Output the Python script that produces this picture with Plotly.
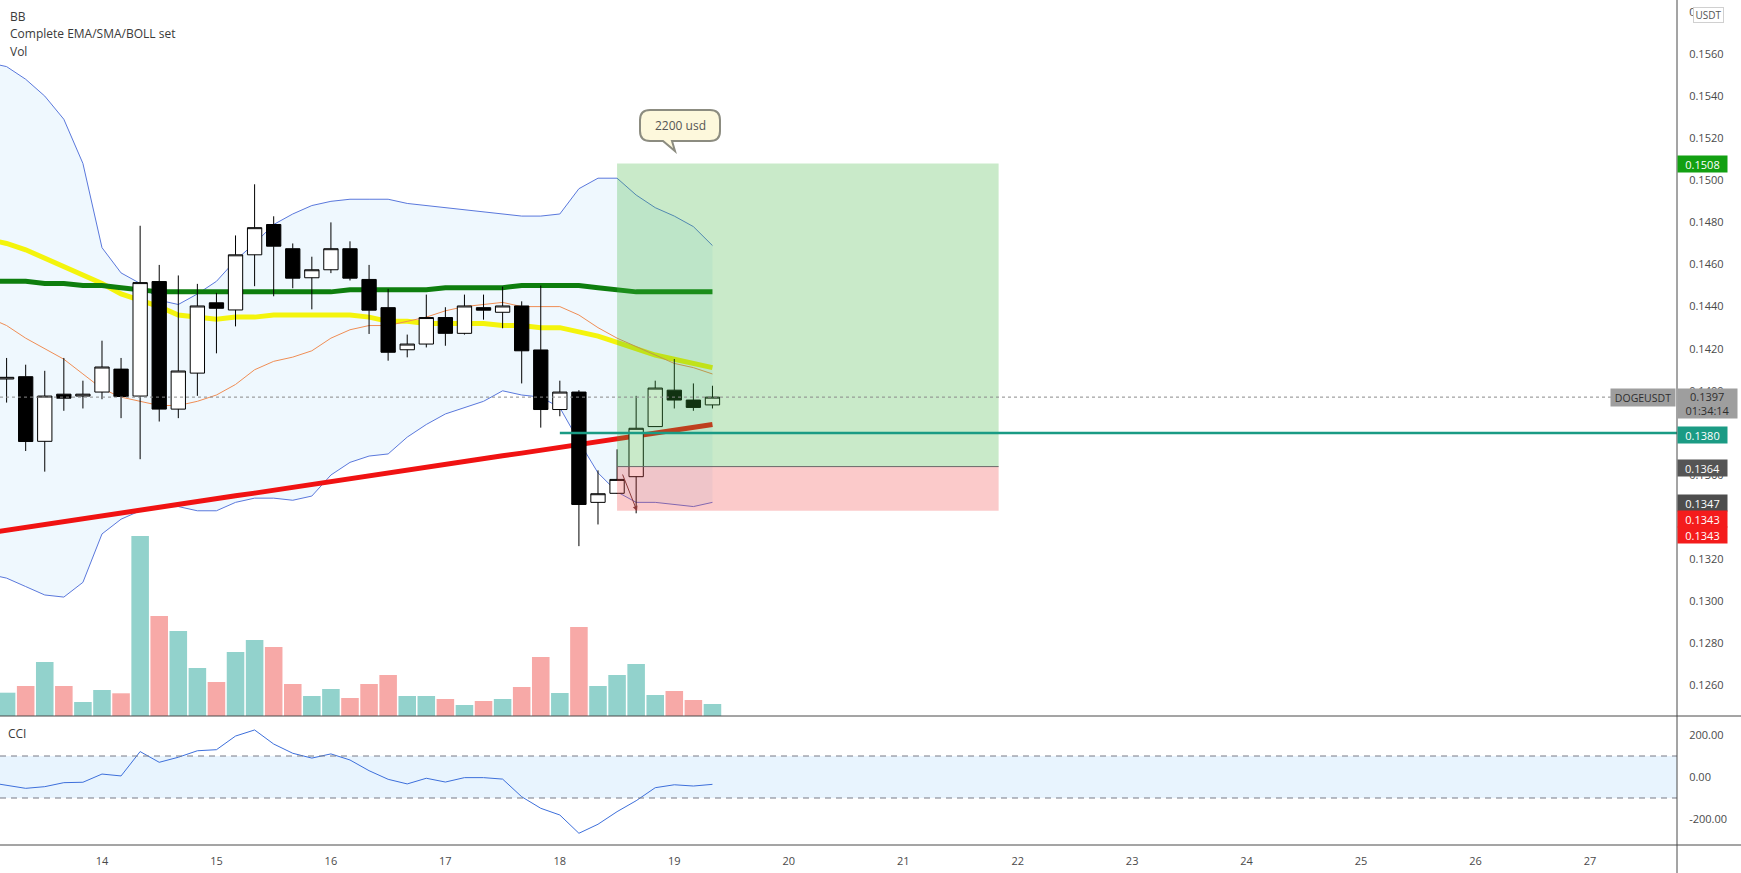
import plotly.graph_objects as go
import pandas as pd

# ---------------- data ----------------
candle_start = "2021-12-13 04:00"
n_candles = 38

opens = [0.14056, 0.14067, 0.13760, 0.13984, 0.13975, 0.13994, 0.14103, 0.13975, 0.14519, 0.13913,
         0.14084, 0.14418, 0.14384, 0.14646, 0.14790, 0.14675, 0.14537, 0.14575, 0.14675, 0.14529,
         0.14395, 0.14195, 0.14222, 0.14348, 0.14273, 0.14395, 0.14373, 0.14403, 0.14194, 0.13911,
         0.13994, 0.13470, 0.13513, 0.13592, 0.13830, 0.14003, 0.13956, 0.13933]
highs = [0.14156, 0.14124, 0.14095, 0.14156, 0.14048, 0.14238, 0.14156, 0.14784, 0.14598, 0.14548,
         0.14508, 0.14465, 0.14738, 0.14981, 0.14829, 0.14700, 0.14637, 0.14800, 0.14710, 0.14598,
         0.14484, 0.14267, 0.14457, 0.14397, 0.14457, 0.14457, 0.14495, 0.14425, 0.14500, 0.14048,
         0.14003, 0.13622, 0.13722, 0.13976, 0.14048, 0.14151, 0.14035, 0.14024]
lows = [0.13944, 0.13714, 0.13616, 0.13905, 0.13916, 0.13960, 0.13870, 0.13675, 0.13854, 0.13870,
        0.13976, 0.14178, 0.14306, 0.14497, 0.14449, 0.14487, 0.14387, 0.14559, 0.14524, 0.14270,
        0.14143, 0.14159, 0.14206, 0.14214, 0.14267, 0.14338, 0.14297, 0.14035, 0.13825, 0.13879,
        0.13262, 0.13365, 0.13510, 0.13418, 0.13830, 0.13916, 0.13905, 0.13916]
closes = [0.14064, 0.13759, 0.13975, 0.13965, 0.13984, 0.14113, 0.13973, 0.14514, 0.13913, 0.14094,
          0.14403, 0.14392, 0.14646, 0.14775, 0.14687, 0.14535, 0.14575, 0.14675, 0.14535, 0.14383,
          0.14183, 0.14222, 0.14348, 0.14273, 0.14403, 0.14383, 0.14403, 0.14190, 0.13911, 0.13994,
          0.13460, 0.13511, 0.13579, 0.13822, 0.14013, 0.13956, 0.13921, 0.13970]
volumes = [23.3, 30, 54, 30, 14, 26, 22.7, 180, 100, 85, 48, 34, 64, 76, 69, 32, 20, 27, 18, 32,
           41, 20, 20, 17, 11, 15, 17, 29, 59, 23, 89, 30, 41, 52, 21, 25, 16, 12]

# indicator series start one bar earlier (bar just left of the visible window)
ema_orange = [0.1435, 0.1431, 0.1425, 0.1420, 0.1415, 0.1408, 0.1401, 0.1397, 0.1395, 0.1393, 0.1393,
              0.1395, 0.1398, 0.1403, 0.1410, 0.1414, 0.1416, 0.1419, 0.1425, 0.1429, 0.1431,
              0.1431, 0.1433, 0.1435, 0.1438, 0.1440, 0.1441, 0.1442, 0.1440, 0.1440, 0.1440,
              0.1436, 0.1430, 0.1425, 0.1421, 0.1417, 0.1413, 0.1411, 0.1408]
ma_yellow = [0.1472, 0.1470, 0.1467, 0.1463, 0.1459, 0.1455, 0.1451, 0.1446, 0.1443, 0.1440, 0.1436,
             0.1435, 0.1434, 0.1435, 0.1435, 0.1436, 0.1436, 0.1436, 0.1436, 0.1436, 0.1435,
             0.1433, 0.1433, 0.1432, 0.1432, 0.1432, 0.1432, 0.1431, 0.1431, 0.1430, 0.1430,
             0.1428, 0.1426, 0.1423, 0.1420, 0.1417, 0.1415, 0.1413, 0.1411]
ma_green = [0.1452, 0.1452, 0.1452, 0.1451, 0.1451, 0.1450, 0.1450, 0.1449, 0.1448, 0.1447, 0.1447,
            0.1447, 0.1447, 0.1447, 0.1447, 0.1447, 0.1447, 0.1447, 0.1447, 0.1448, 0.1448,
            0.1448, 0.1448, 0.1448, 0.1449, 0.1449, 0.1449, 0.1449, 0.1450, 0.1450, 0.1450,
            0.1450, 0.1449, 0.1448, 0.1447, 0.1447, 0.1447, 0.1447, 0.1447]
ma_red = [0.13324, 0.13338, 0.13352, 0.13365, 0.13379, 0.13392, 0.13406, 0.13419, 0.13433, 0.13446, 0.13460,
          0.13474, 0.13487, 0.13501, 0.13514, 0.13528, 0.13541, 0.13555, 0.13568, 0.13582, 0.13596,
          0.13609, 0.13623, 0.13636, 0.13650, 0.13663, 0.13677, 0.13691, 0.13704, 0.13718, 0.13731,
          0.13745, 0.13758, 0.13772, 0.13785, 0.13799, 0.13813, 0.13826, 0.13840]
bb_upper = [0.1556, 0.1554, 0.1548, 0.1540, 0.1529, 0.1508, 0.1468, 0.1456, 0.1451, 0.1443, 0.1441,
            0.1446, 0.1452, 0.1462, 0.1470, 0.1479, 0.1484, 0.1488, 0.1490, 0.1491, 0.1491,
            0.1491, 0.1489, 0.1488, 0.1487, 0.1486, 0.1485, 0.1484, 0.1483, 0.1483, 0.1484,
            0.1496, 0.1501, 0.1501, 0.1493, 0.1487, 0.1483, 0.1478, 0.1469]
bb_lower = [0.1313, 0.1311, 0.1307, 0.1303, 0.1302, 0.1309, 0.1332, 0.1339, 0.1343, 0.1345, 0.1345,
            0.1343, 0.1343, 0.1347, 0.1349, 0.1349, 0.1348, 0.1350, 0.1360, 0.1366, 0.1369,
            0.1370, 0.1378, 0.1384, 0.1389, 0.1392, 0.1395, 0.1400, 0.1398, 0.1397, 0.1392,
            0.1376, 0.1361, 0.1352, 0.1347, 0.1347, 0.1346, 0.1345, 0.1347]
cci = [-25, -38, -54, -46, -27, -25, 14, 5, 121, 70, 94, 125, 130, 195, 224, 157, 113, 90, 110, 81, 30,
       -11, -33, -6, -24, -3, -3, -10, -94, -149, -181, -268, -225, -165, -113, -51, -37, -43, -35]

entry_price = 0.1364
take_profit = 0.1508
stop_loss = 0.1343
position_start_bar = 32
position_end_bar = 52
level_price = 0.1380
level_start_bar = 29
last_price = 0.1397
countdown = "01:34:14"
symbol = "DOGEUSDT"
price_ticks = [0.1260, 0.1280, 0.1300, 0.1320, 0.1340, 0.1360, 0.1380, 0.1400, 0.1420, 0.1440,
               0.1460, 0.1480, 0.1500, 0.1520, 0.1540, 0.1560, 0.1580]
cci_ticks = [200, 0, -200]
cci_tick_labels = ["200.00", "0.00", "-200.00"]
cci_band = [-100, 100]
indicator_titles = ["BB", "Complete EMA/SMA/BOLL set", "Vol"]
note_text = "2200 usd"

# ---------------- geometry helpers ----------------
W, H = 1741, 873
PLOT_R = 1677  # right edge of plotting area in px
FONT = "Open Sans, Roboto, sans-serif"
TXT = "#4a4a4a"


def X(px):
    return px / PLOT_R


def Y(py):
    return 1 - py / H


bar = pd.Timedelta(hours=4)
times = pd.date_range(candle_start, periods=n_candles, freq="4h")
t0 = times[0]
ind_times = pd.date_range(t0 - bar, periods=n_candles + 1, freq="4h")
x_left = t0 - 0.346 * bar
x_right = t0 + 87.56 * bar
bar_ms = 4 * 3600 * 1000

vol_colors = ["rgba(38,166,154,0.5)" if c >= o else "rgba(239,83,80,0.5)" for o, c in zip(opens, closes)]

fig = go.Figure()

# Bollinger bands
fig.add_trace(go.Scatter(x=ind_times, y=bb_upper, mode="lines", line=dict(color="#5a78dc", width=1),
                         xaxis="x", yaxis="y", hoverinfo="skip"))
fig.add_trace(go.Scatter(x=ind_times, y=bb_lower, mode="lines", line=dict(color="#5a78dc", width=1),
                         fill="tonexty", fillcolor="rgba(33,150,243,0.07)",
                         xaxis="x", yaxis="y", hoverinfo="skip"))
# moving averages
fig.add_trace(go.Scatter(x=ind_times, y=ma_yellow, mode="lines", line=dict(color="#f4f40c", width=5),
                         xaxis="x", yaxis="y"))
fig.add_trace(go.Scatter(x=ind_times, y=ma_green, mode="lines", line=dict(color="#0e7e0e", width=5),
                         xaxis="x", yaxis="y"))
fig.add_trace(go.Scatter(x=ind_times, y=ma_red, mode="lines", line=dict(color="#f01212", width=5),
                         xaxis="x", yaxis="y"))
fig.add_trace(go.Scatter(x=ind_times, y=ema_orange, mode="lines", line=dict(color="#ef8e55", width=1),
                         xaxis="x", yaxis="y"))

# volume
fig.add_trace(go.Bar(x=times, y=volumes, marker=dict(color=vol_colors, line=dict(width=0)),
                     width=0.92 * bar_ms, xaxis="x", yaxis="y3"))

# candles
fig.add_trace(go.Candlestick(
    x=times, open=opens, high=highs, low=lows, close=closes,
    increasing=dict(fillcolor="#ffffff", line=dict(color="#000000", width=1)),
    decreasing=dict(fillcolor="#000000", line=dict(color="#000000", width=1)),
    whiskerwidth=0, xaxis="x", yaxis="y4"))

# CCI
fig.add_trace(go.Scatter(x=ind_times, y=cci, mode="lines", line=dict(color="#3d6fdb", width=1),
                         xaxis="x", yaxis="y2"))

y_range = [0.124551, 0.158565]
main_dom = [Y(716), 1]
cci_dom = [Y(845), Y(717)]

fig.update_layout(
    width=W, height=H,
    margin=dict(l=0, r=W - PLOT_R, t=0, b=0),
    paper_bgcolor="white", plot_bgcolor="white",
    showlegend=False,
    boxgap=0.25, boxgroupgap=0,
    font=dict(family=FONT, size=11, color=TXT),
    xaxis=dict(domain=[0, 1], anchor="y2", type="date", range=[x_left, x_right],
               tick0="2021-12-14", dtick=86400000, tickformat="%d",
               showgrid=False, zeroline=False, showline=False,
               ticks="outside", ticklen=6, tickcolor="rgba(0,0,0,0)",
               tickfont=dict(size=11, color=TXT), rangeslider=dict(visible=False)),
    yaxis=dict(domain=main_dom, anchor="x", side="right", range=y_range,
               tickvals=price_ticks, ticktext=[f"{v:.4f}" for v in price_ticks],
               showgrid=False, zeroline=False, showline=False,
               ticks="outside", ticklen=9, tickcolor="rgba(0,0,0,0)",
               tickfont=dict(size=11, color=TXT)),
    yaxis2=dict(domain=cci_dom, anchor="x", side="right", range=[-323.8, 285.7],
                tickvals=cci_ticks, ticktext=cci_tick_labels,
                showgrid=False, zeroline=False, showline=False,
                ticks="outside", ticklen=9, tickcolor="rgba(0,0,0,0)",
                tickfont=dict(size=11, color=TXT)),
    yaxis3=dict(overlaying="y", range=[0, 716], visible=False),
    yaxis4=dict(overlaying="y", range=y_range, visible=False),
)

shapes = []
# CCI band
shapes.append(dict(type="rect", xref="paper", yref="y2", x0=0, x1=1, y0=cci_band[0], y1=cci_band[1],
                   fillcolor="rgba(33,150,243,0.1)", line=dict(width=0), layer="below"))
for v in cci_band:
    shapes.append(dict(type="line", xref="paper", yref="y2", x0=0, x1=1, y0=v, y1=v,
                       line=dict(color="#787b86", width=1, dash="6px,5px"), layer="above"))

# position tool
pos_x0 = t0 + position_start_bar * bar
pos_x1 = t0 + position_end_bar * bar
shapes.append(dict(type="rect", xref="x", yref="y", x0=pos_x0, x1=pos_x1, y0=entry_price, y1=take_profit,
                   fillcolor="rgba(60,180,60,0.28)", line=dict(width=0), layer="above"))
shapes.append(dict(type="rect", xref="x", yref="y", x0=pos_x0, x1=pos_x1, y0=stop_loss, y1=entry_price,
                   fillcolor="rgba(242,60,60,0.27)", line=dict(width=0), layer="above"))
shapes.append(dict(type="line", xref="x", yref="y", x0=pos_x0, x1=pos_x1, y0=entry_price, y1=entry_price,
                   line=dict(color="#6a6a6a", width=1), layer="above"))
# horizontal level
shapes.append(dict(type="line", xref="x", yref="y", x0=t0 + level_start_bar * bar, x1=x_right,
                   y0=level_price, y1=level_price, line=dict(color="#1a9b84", width=2.5), layer="above"))
# last price dotted line
shapes.append(dict(type="line", xref="paper", yref="y", x0=0, x1=X(1612), y0=last_price, y1=last_price,
                   line=dict(color="#8a8a8a", width=1, dash="dot"), layer="above"))
# pane separators and price axis line
for py in (716, 845):
    shapes.append(dict(type="line", xref="paper", yref="paper", x0=0, x1=X(W), y0=Y(py), y1=Y(py),
                       line=dict(color="#4a4a4a", width=1), layer="above"))
shapes.append(dict(type="line", xref="paper", yref="paper", x0=1, x1=1, y0=0, y1=1,
                   line=dict(color="#4a4a4a", width=1), layer="above"))

# speech bubble
L, R, T, B, r = 640, 720, 110, 141, 10
tb1, tb2, tip = 663, 672, (675, 151)
bubble = (f"M {X(L + r)},{Y(T)} L {X(R - r)},{Y(T)} Q {X(R)},{Y(T)} {X(R)},{Y(T + r)} "
          f"L {X(R)},{Y(B - r)} Q {X(R)},{Y(B)} {X(R - r)},{Y(B)} L {X(tb2)},{Y(B)} "
          f"L {X(tip[0])},{Y(tip[1])} L {X(tb1)},{Y(B)} L {X(L + r)},{Y(B)} "
          f"Q {X(L)},{Y(B)} {X(L)},{Y(B - r)} L {X(L)},{Y(T + r)} Q {X(L)},{Y(T)} {X(L + r)},{Y(T)} Z")
shapes.append(dict(type="path", xref="paper", yref="paper", path=bubble,
                   fillcolor="#fdf8dc", line=dict(color="#8c8c80", width=2), layer="above"))
fig.update_layout(shapes=shapes)

ann = []
# indicator titles
for i, t in enumerate(indicator_titles):
    ann.append(dict(xref="paper", yref="paper", x=X(8), y=Y(16 + 17.5 * i), text=t, showarrow=False,
                    xanchor="left", yanchor="middle", font=dict(size=12, color="#3a3a3a")))
ann.append(dict(xref="paper", yref="paper", x=X(6), y=Y(733), text="CCI", showarrow=False,
                xanchor="left", yanchor="middle", font=dict(size=12, color="#3a3a3a")))
ann.append(dict(xref="paper", yref="paper", x=X(680), y=Y(125.5), text=note_text, showarrow=False,
                xanchor="center", yanchor="middle", font=dict(size=12, color="#555555")))
# small drawn arrow
ann.append(dict(xref="paper", yref="paper", x=X(637), y=Y(511), text="", showarrow=True,
                ax=-15, ay=-38, arrowhead=2, arrowsize=1, arrowwidth=1, arrowcolor="#8c3b3b"))


def axis_label(text, py, bg, fg="white", h=12):
    return dict(xref="paper", yref="paper", x=1, y=Y(py), text=text, showarrow=False,
                xanchor="left", yanchor="middle", bgcolor=bg, width=45, height=h, borderpad=2,
                font=dict(size=11, color=fg), align="center")


ann.append(axis_label(f"{take_profit:.4f}", 164, "#12a012"))
ann.append(axis_label(f"{level_price:.4f}", 434.7, "#1b9b84"))
ann.append(axis_label(f"{entry_price:.4f}", 468, "#555555"))
ann.append(axis_label("0.1347", 503, "#4d4d4d"))
ann.append(axis_label(f"{stop_loss:.4f}", 518.5, "#f41c1c"))
ann.append(axis_label(f"{stop_loss:.4f}", 534.7, "#f41c1c"))
# last price + countdown
ann.append(dict(xref="paper", yref="paper", x=1, y=Y(403.5), text=f"{last_price:.4f}<br>{countdown}",
                showarrow=False, xanchor="left", yanchor="middle", bgcolor="#9e9e9e",
                width=55, height=25, borderpad=2, font=dict(size=11, color="#2e2e2e"), align="center"))
ann.append(dict(xref="paper", yref="paper", x=1, xshift=-1, y=Y(397.5), text=symbol,
                showarrow=False, xanchor="right", yanchor="middle", bgcolor="#9e9e9e",
                width=60, height=13, borderpad=2, font=dict(size=10.5, color="#2e2e2e"), align="center"))
# currency badge
ann.append(dict(xref="paper", yref="paper", x=1, xshift=16, y=Y(15), text="USDT",
                showarrow=False, xanchor="left", yanchor="middle", bgcolor="white",
                bordercolor="#d0d0d0", borderwidth=1, width=27, height=12, borderpad=1,
                font=dict(size=10, color="#555555"), align="center"))
fig.update_layout(annotations=ann)

fig.write_html("out.html")
